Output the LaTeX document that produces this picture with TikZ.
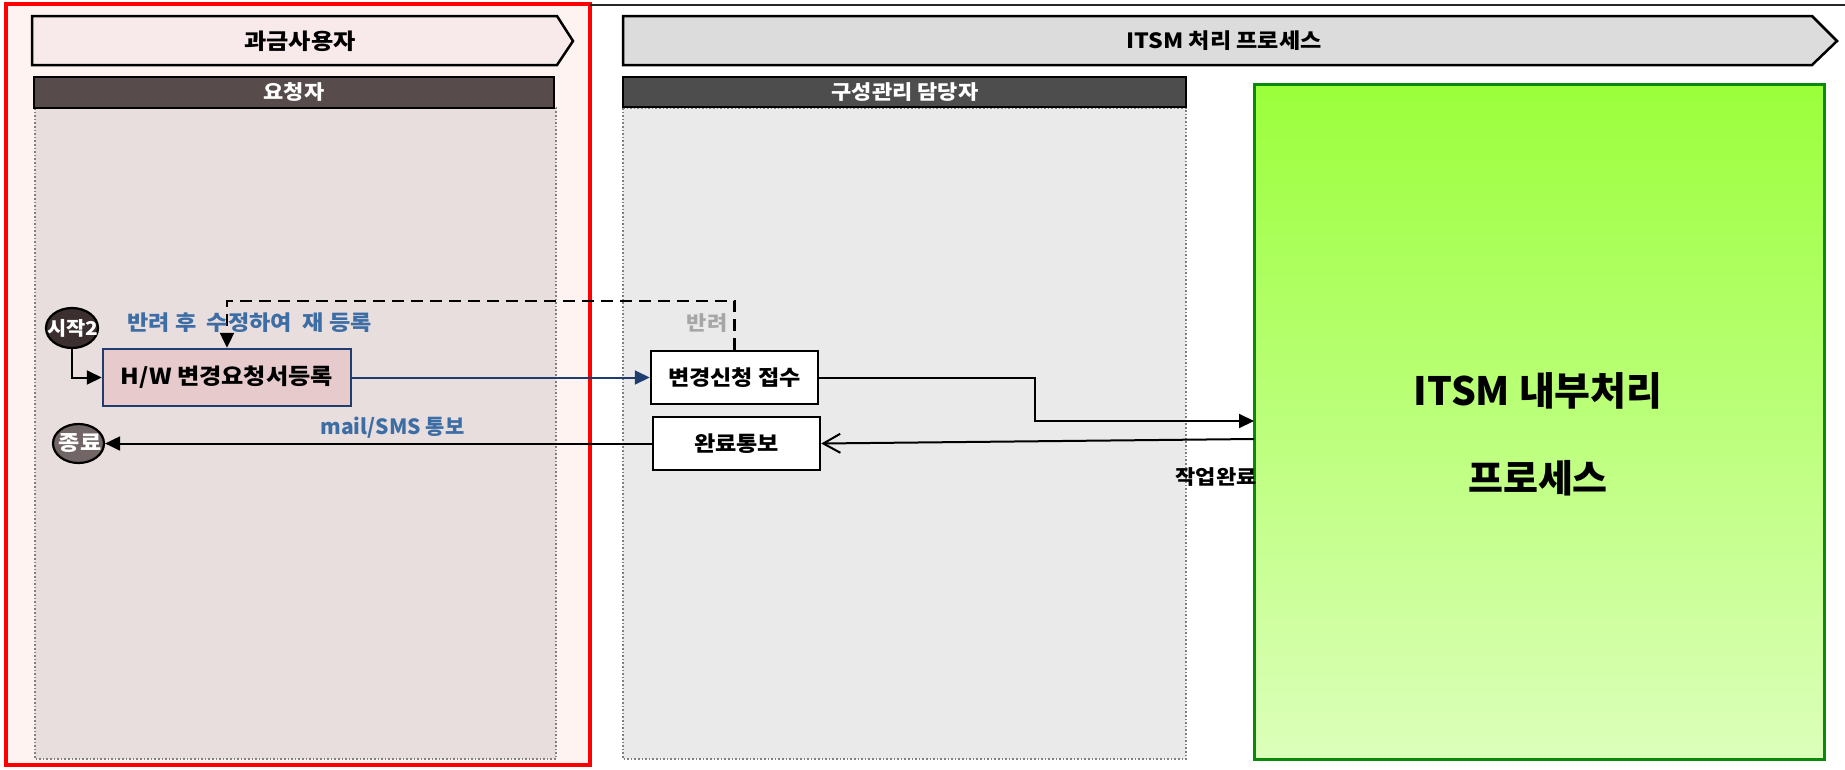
\documentclass[tikz,border=0pt]{standalone}
\usepackage{fontspec}
\setmainfont{Noto Sans CJK KR}
\newfontfamily\wkr{Noto Sans CJK KR}[FakeStretch=1.1]
\usetikzlibrary{arrows.meta,shapes.geometric}
\definecolor{redfill}{HTML}{FFF3F2}
\definecolor{laneA}{HTML}{E9DEDE}
\definecolor{laneB}{HTML}{EAEAEA}
\definecolor{chevA}{HTML}{F8EAEA}
\definecolor{chevB}{HTML}{DCDCDC}
\definecolor{headA}{HTML}{574B4B}
\definecolor{headB}{HTML}{4D4D4D}
\definecolor{hwfill}{HTML}{E6CACC}
\definecolor{navy}{HTML}{1F3D6E}
\definecolor{lblue}{HTML}{3D6DA5}
\definecolor{lgray}{HTML}{A6A6A6}
\definecolor{gtop}{HTML}{9BFF3B}
\definecolor{gbot}{HTML}{DCFFBA}
\definecolor{gborder}{HTML}{0A8A0A}
\definecolor{startfill}{HTML}{3B2F2F}
\definecolor{endfill}{HTML}{716565}
\tikzset{
  fs/.style={font=\wkr\fontsize{#1}{#1}\selectfont\bfseries},
  ns/.style={font=\normalfont\fontsize{#1}{#1}\selectfont\bfseries},
  procbox/.style={draw=black, line width=2.5pt, fill=white, inner sep=0pt, fs=21},
  termnode/.style={ellipse, draw=black, line width=2.2pt, inner sep=0pt},
  lanebox/.style={draw=gray, dotted, line width=1.6pt},
  chev/.style={draw=black, line width=2.5pt},
  headbox/.style={draw=black, line width=2pt},
  flow/.style={line width=2pt, -{Triangle[length=15pt,width=14pt]}},
  lbl/.style={inner sep=0pt, fs=21},
}
\begin{document}
\begin{tikzpicture}[x=1pt,y=-1pt]
\useasboundingbox (0,0) rectangle (1845,769);
\fill[white] (0,0) rectangle (1845,769);
% outer frames
\draw[red, line width=3.5pt, fill=redfill] (6,4) rectangle (590,765);
\draw[black!85, line width=2pt] (590,5) -- (1845,5);
% chevrons
\draw[chev, fill=chevA] (32,16) -- (557,16) -- (573,41) -- (557,65) -- (32,65) -- cycle;
\node[lbl, fs=22] (chevAlabel) at (300,41) {과금사용자};
\draw[chev, fill=chevB] (623,16) -- (1812,16) -- (1837,41) -- (1812,65) -- (623,65) -- cycle;
\node[lbl, fs=21] (chevBlabel) at (1224,41) {ITSM 처리 프로세스};
% lanes
\draw[lanebox, fill=laneA] (35,108) rectangle (556,759);
\draw[lanebox, fill=laneB] (623,108) rectangle (1186,759);
\draw[headbox, fill=headA] (34,77) rectangle (554,108);
\node[lbl, fs=20, text=white] (headAlabel) at (294,92) {요청자};
\draw[headbox, fill=headB] (623,77) rectangle (1186,107);
\node[lbl, fs=20, text=white] (headBlabel) at (905,92) {구성관리 담당자};
% ITSM internal process
\node[draw=gborder, line width=3pt, top color=gtop, bottom color=gbot,
      minimum width=570pt, minimum height=675pt, inner sep=0pt] (itsm) at (1539,421.5) {};
\node[inner sep=0pt, ns=39] (itsmA) at (1538,391) {ITSM 내부처리};
\node[inner sep=0pt, ns=38] (itsmB) at (1538,478) {프로세스};
% terminals
\node[termnode, fill=startfill, minimum width=52pt, minimum height=40pt] (start) at (72,328) {};
\node[lbl, fs=19, text=white] (startlabel) at (73,328) {시작2};
\node[termnode, fill=endfill, minimum width=51pt, minimum height=39pt] (stop) at (78.5,443.5) {};
\node[lbl, fs=21, text=white] (stoplabel) at (80,443.5) {종료};
% process boxes
\node[procbox, draw=navy, fill=hwfill, minimum width=248pt, minimum height=57pt, fs=22] (hw) at (227,377.5) {H/W 변경요청서등록};
\node[procbox, minimum width=167pt, minimum height=53pt] (recv) at (734.5,377.5) {변경신청 접수};
\node[procbox, minimum width=167pt, minimum height=53pt] (done) at (736.5,443.5) {완료통보};
\coordinate (gin) at (1254,421);
\coordinate (gout) at (1254,439);
% connectors
\draw[flow] (start.south) |- (hw.west);
\draw[flow, navy] (hw.east) -- (recv.west);
\draw[flow] (recv.east) -- (1035,377.5) |- (gin);
\draw[line width=2pt, -{Straight Barb[length=17pt,width=19pt]}] (gout) -- (done.east);
\draw[flow] (done.west) -- (stop.east);
\draw[line width=2.4pt, dash pattern=on 12pt off 7pt, -{Triangle[length=15pt,width=14pt]}]
  (recv.north) -- ++(0,-49) -| (hw.north);
% labels
\node[lbl, text=lblue] (relabel) at (249.5,323) {반려 후~ 수정하여~ 재 등록};
\node[inner sep=0pt, ns=21, text=lblue] (maillabel) at (392.5,428) {mail/SMS 통보};
\node[lbl, text=lgray, fs=20] (rejlabel) at (707,323) {반려};
\node[lbl, fs=20] (worklabel) at (1216,477) {작업완료};
\end{tikzpicture}
\end{document}
